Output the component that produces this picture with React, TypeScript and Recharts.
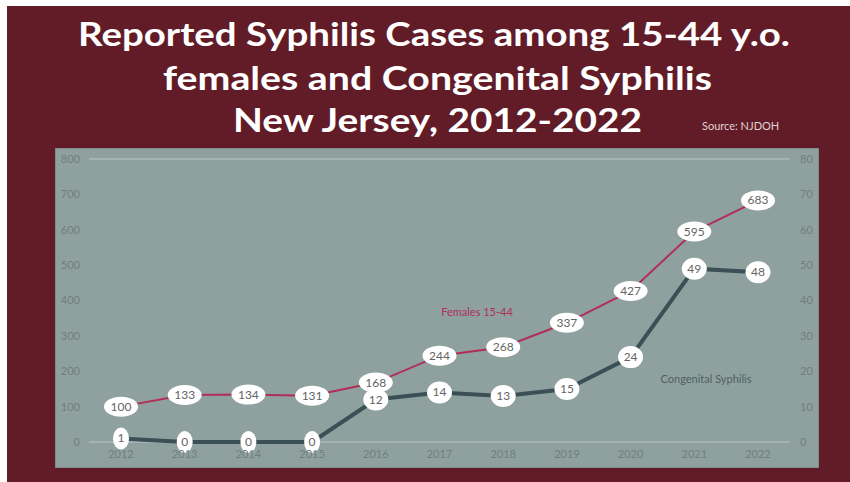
import React from 'react';
import { LineChart, Line, XAxis, YAxis, CartesianGrid } from 'recharts';

const years = ['2012', '2013', '2014', '2015', '2016', '2017', '2018', '2019', '2020', '2021', '2022'];
const females = [100, 133, 134, 131, 168, 244, 268, 337, 427, 595, 683];
const congenital = [1, 0, 0, 0, 12, 14, 13, 15, 24, 49, 48];
const leftTicks = [0, 100, 200, 300, 400, 500, 600, 700, 800];
const rightTicks = [0, 10, 20, 30, 40, 50, 60, 70, 80];

const data = years.map((year, i) => ({ year, females: females[i], congenital: congenital[i] }));

const FONT = 'Lato, "Open Sans", sans-serif';
const MAROON = '#621c27';
const PANEL = '#8fa19e';
const PINK = '#b02f57';
const SLATE = '#3b4f56';
const TICK = '#6f7f7c';

// white oval with the value inside, drawn at each point
const bubble = (series: string) => (props: any) => {
  const { cx, cy, value, index } = props;
  if (cx == null || cy == null) return <g key={`${series}-${index}`} />;
  const txt = String(value);
  const rx = txt.length >= 3 ? 17 : txt.length === 2 ? 12.5 : 8;
  const ry = txt.length >= 3 ? 10 : 11;
  return (
    <g key={`${series}-${index}`}>
      <ellipse cx={cx} cy={cy} rx={rx} ry={ry} fill="#ffffff" />
      <text x={cx} y={cy} dy={4} textAnchor="middle" fontSize={12} fill="#646464" fontFamily={FONT}>
        {txt}
      </text>
    </g>
  );
};

export default function App() {
  const tickStyle = { fill: TICK, fontSize: 11, fontFamily: FONT };
  return (
    <div style={{ position: 'relative', width: 850, height: 482, background: '#ffffff', overflow: 'hidden' }}>
      <style>{'body{margin:0}'}</style>
      <div style={{ position: 'absolute', left: 7, top: 6, width: 843, height: 476, background: MAROON }} />
      <div
        style={{
          position: 'absolute',
          left: 55,
          top: 148,
          width: 762,
          height: 318,
          background: PANEL,
          border: '1px solid #7d8d8b',
        }}
      />

      <svg width={850} height={150} style={{ position: 'absolute', left: 0, top: 0 }}>
        <g fill="#ffffff" fontFamily={FONT} fontWeight={700} fontSize={33}>
          <text x={78} y={46} textLength={712} lengthAdjust="spacingAndGlyphs">
            Reported Syphilis Cases among 15-44 y.o.
          </text>
          <text x={163} y={90} textLength={549} lengthAdjust="spacingAndGlyphs">
            females and Congenital Syphilis
          </text>
          <text x={233} y={132} textLength={409} lengthAdjust="spacingAndGlyphs">
            New Jersey, 2012-2022
          </text>
        </g>
        <text x={702} y={130} fontSize={11} fill="#e0d2d5" fontFamily={FONT}>
          Source: NJDOH
        </text>
      </svg>

      <div style={{ position: 'absolute', left: 0, top: 0 }}>
        <LineChart width={850} height={482} data={data} margin={{ top: 159, right: 20, bottom: 20, left: 0 }}>
          <CartesianGrid vertical={false} stroke="#b9c6c4" strokeWidth={1} />
          <XAxis
            dataKey="year"
            axisLine={false}
            tickLine={false}
            height={20}
            padding={{ left: 32, right: 32 }}
            tick={tickStyle}
            interval={0}
          />
          <YAxis
            yAxisId="left"
            domain={[0, 800]}
            ticks={leftTicks}
            width={89}
            axisLine={false}
            tickLine={false}
            tickMargin={3}
            tick={tickStyle}
          />
          <YAxis
            yAxisId="right"
            orientation="right"
            domain={[0, 80]}
            ticks={rightTicks}
            width={40}
            axisLine={false}
            tickLine={false}
            tickMargin={4}
            tick={tickStyle}
          />
          <Line
            yAxisId="left"
            dataKey="females"
            stroke={PINK}
            strokeWidth={2}
            dot={bubble('f')}
            activeDot={false}
            isAnimationActive={false}
          />
          <Line
            yAxisId="right"
            dataKey="congenital"
            stroke={SLATE}
            strokeWidth={4}
            dot={bubble('c')}
            activeDot={false}
            isAnimationActive={false}
          />
        </LineChart>
      </div>

      <div
        style={{
          position: 'absolute',
          left: 477,
          top: 311,
          transform: 'translate(-50%, -50%)',
          color: PINK,
          fontSize: 11,
          fontFamily: FONT,
          whiteSpace: 'nowrap',
        }}
      >
        Females 15-44
      </div>
      <div
        style={{
          position: 'absolute',
          left: 706,
          top: 378,
          transform: 'translate(-50%, -50%)',
          color: '#4e5f62',
          fontSize: 11,
          fontFamily: FONT,
          whiteSpace: 'nowrap',
        }}
      >
        Congenital Syphilis
      </div>
    </div>
  );
}
